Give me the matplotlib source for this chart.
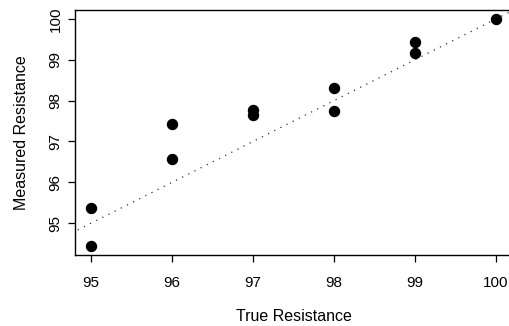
import matplotlib.pyplot as plt

plt.rcParams['font.family'] = ['Liberation Sans', 'DejaVu Sans']

true_res = [95, 95, 96, 96, 97, 97, 98, 98, 99, 99, 100]
measured_res = [95.37, 94.45, 97.42, 96.58, 97.77, 97.64, 98.32, 97.75, 99.44, 99.16, 100.0]
ticks = [95, 96, 97, 98, 99, 100]

W, H = 509, 326
fig = plt.figure(figsize=(W / 100, H / 100), dpi=100)
ax = fig.add_axes([75 / W, 71 / H, 437 / W, 245 / H])

ax.plot(true_res, measured_res, 'o', color='black', markersize=7.2, zorder=3)

# reference line y = x
ax.plot([94, 101], [94, 101], color='#333333', linestyle=(0, (1, 4.5)), linewidth=0.9)

ax.set_xlim(94.8, 100.2)
ax.set_ylim(94.22, 100.22)
ax.set_xticks(ticks)
ax.set_yticks(ticks)
ax.set_yticklabels([str(t) for t in ticks], rotation=90, va='center')
ax.tick_params(labelsize=11, length=5, width=0.9, color='black')
ax.tick_params(axis='x', pad=10)
ax.tick_params(axis='y', pad=4)
for s in ax.spines.values():
    s.set_linewidth(1.0)

ax.set_xlabel('True Resistance', fontsize=11.5, labelpad=14)
ax.set_ylabel('Measured Resistance', fontsize=11.5, labelpad=14)

fig.savefig('out.png', dpi=100)
